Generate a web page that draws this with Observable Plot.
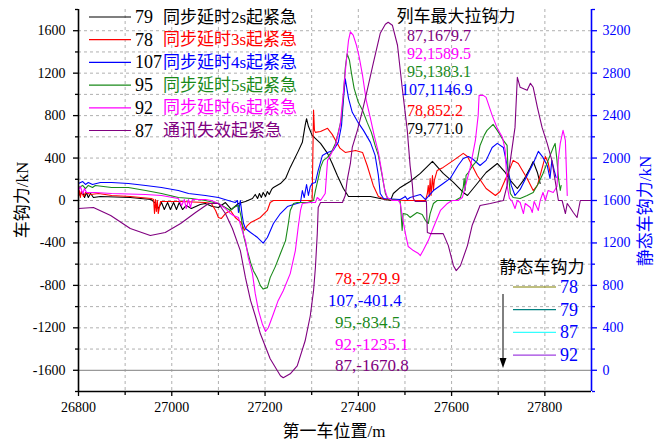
<!DOCTYPE html>
<html><head><meta charset="utf-8">
<script src="https://cdn.jsdelivr.net/npm/d3@7"></script>
<script src="https://cdn.jsdelivr.net/npm/@observablehq/plot@0.6"></script>
<style>
html,body{margin:0;padding:0;background:#fff;}
#chart{width:656px;height:443px;}
</style></head><body><div id="chart"></div>
<script>
// ---- data (position m, coupler force kN) ----
const s79 = [[26800,47],[26809,76],[26813,28],[26817,76],[26821,28],[26826,66],[26832,28],[26847,38],[26911,28],[26956,9],[26965,-28],[26971,-76],[26978,-19],[26984,-85],[26991,-19],[26997,-85],[27004,-19],[27010,-85],[27016,-19],[27023,-85],[27031,-47],[27042,-76],[27061,-38],[27072,-28],[27087,-57],[27100,-66],[27115,-19],[27128,-85],[27143,-28],[27158,-9],[27173,19],[27179,57],[27184,19],[27188,66],[27192,28],[27196,76],[27201,38],[27205,85],[27209,57],[27214,104],[27218,123],[27233,160],[27244,208],[27254,312],[27271,463],[27280,548],[27286,708],[27289,771],[27293,699],[27301,614],[27319,538],[27334,444],[27344,349],[27355,236],[27368,113],[27379,38],[27426,38],[27447,19],[27469,0],[27475,66],[27490,123],[27511,179],[27533,255],[27559,368],[27582,255],[27604,170],[27625,76],[27634,47],[27655,160],[27674,264],[27698,349],[27715,264],[27726,189],[27741,113],[27754,189],[27769,312],[27775,368],[27784,264],[27790,160]];
const s78 = [[26800,47],[26802,94],[26804,28],[26806,85],[26811,38],[26815,76],[26826,57],[26843,66],[26871,47],[26911,38],[26956,19],[26961,9],[26963,-123],[26965,9],[26967,-104],[26969,0],[26971,-123],[26976,-9],[27019,-9],[27072,-19],[27085,-28],[27094,-94],[27100,-160],[27106,-170],[27115,-123],[27126,-94],[27136,-160],[27149,-208],[27156,-280],[27162,-236],[27169,-208],[27190,-160],[27205,-94],[27211,-19],[27218,0],[27301,0],[27304,852],[27306,661],[27308,642],[27319,651],[27334,680],[27344,623],[27361,491],[27372,453],[27394,472],[27409,453],[27419,330],[27432,142],[27443,38],[27458,9],[27501,0],[27544,0],[27548,66],[27550,142],[27552,38],[27554,208],[27556,47],[27559,236],[27561,94],[27563,189],[27569,283],[27582,312],[27604,378],[27625,444],[27634,415],[27644,330],[27655,236],[27674,113],[27694,47],[27704,85],[27719,236],[27732,378],[27743,349],[27762,208],[27775,94],[27784,142],[27794,302],[27801,415],[27807,359],[27811,264]];
const s107 = [[26800,160],[26809,179],[26815,151],[26821,170],[26830,151],[26847,170],[26871,170],[26907,160],[26944,142],[26978,123],[27014,94],[27036,66],[27072,47],[27100,28],[27121,0],[27136,-19],[27141,0],[27143,-113],[27147,0],[27151,-142],[27154,-217],[27158,-264],[27169,-302],[27184,-349],[27196,-401],[27205,-349],[27218,-217],[27233,-123],[27248,-57],[27261,-38],[27276,-19],[27280,94],[27284,28],[27289,151],[27293,47],[27297,132],[27301,160],[27308,170],[27314,283],[27323,425],[27334,453],[27346,472],[27357,548],[27364,708],[27368,944],[27372,1147],[27379,963],[27387,831],[27398,746],[27411,661],[27426,548],[27436,425],[27443,236],[27447,66],[27454,19],[27490,9],[27501,38],[27505,9],[27511,28],[27533,57],[27544,9],[27561,94],[27582,160],[27597,208],[27614,330],[27625,396],[27636,415],[27644,396],[27661,330],[27674,378],[27687,500],[27698,538],[27711,500],[27719,330],[27728,142],[27736,47],[27747,104],[27762,236],[27775,349],[27786,463],[27796,406],[27805,330],[27811,208],[27815,378],[27820,283],[27824,217]];
const s95 = [[26800,123],[26809,142],[26815,113],[26821,142],[26830,123],[26836,142],[26871,123],[26907,123],[26944,94],[26978,66],[27014,28],[27042,19],[27072,0],[27100,-28],[27115,-66],[27126,-94],[27132,-66],[27143,-47],[27149,-160],[27154,-330],[27162,-472],[27169,-585],[27175,-661],[27184,-736],[27190,-802],[27196,-835],[27205,-821],[27211,-727],[27222,-623],[27233,-500],[27244,-378],[27250,-217],[27254,-94],[27261,-28],[27269,-19],[27291,-19],[27304,0],[27308,94],[27314,208],[27319,312],[27325,378],[27334,406],[27342,453],[27351,538],[27357,642],[27364,774],[27368,991],[27372,1246],[27376,1383],[27381,1322],[27385,1208],[27391,1057],[27400,925],[27409,850],[27419,736],[27428,642],[27436,519],[27443,425],[27451,236],[27458,66],[27464,9],[27486,0],[27490,-9],[27494,-283],[27496,-123],[27505,-132],[27511,-160],[27526,-113],[27537,-132],[27544,-189],[27550,-217],[27554,-123],[27561,-28],[27569,0],[27608,0],[27619,28],[27625,123],[27627,208],[27629,94],[27631,236],[27636,264],[27644,321],[27655,378],[27661,519],[27670,614],[27676,661],[27689,717],[27698,661],[27711,566],[27719,519],[27721,283],[27726,66],[27732,28],[27747,19],[27762,47],[27775,76],[27786,160],[27796,255],[27807,378],[27818,500],[27822,538],[27826,378],[27829,217],[27833,94],[27835,142]];
const s92 = [[26800,94],[26804,132],[26809,66],[26813,113],[26817,76],[26836,76],[26871,66],[26944,57],[26978,47],[27014,19],[27021,-47],[27027,9],[27031,-76],[27036,9],[27040,-66],[27044,9],[27072,9],[27085,0],[27100,-28],[27115,-76],[27126,-123],[27132,-142],[27143,-160],[27149,-255],[27158,-378],[27164,-538],[27173,-689],[27179,-878],[27186,-1038],[27194,-1161],[27201,-1235],[27207,-1199],[27218,-1067],[27228,-944],[27239,-850],[27254,-689],[27265,-472],[27271,-255],[27276,-94],[27280,-28],[27297,-19],[27308,-19],[27312,28],[27319,0],[27329,66],[27334,378],[27340,425],[27351,519],[27361,708],[27368,1020],[27374,1303],[27379,1510],[27383,1590],[27389,1558],[27396,1463],[27402,1350],[27409,1180],[27417,944],[27426,774],[27434,614],[27443,453],[27449,302],[27456,113],[27462,28],[27473,0],[27486,0],[27490,-28],[27494,-142],[27501,-312],[27507,-434],[27518,-472],[27529,-500],[27533,-519],[27539,-472],[27550,-378],[27561,-255],[27576,-94],[27591,-28],[27601,0],[27614,0],[27623,28],[27629,123],[27640,312],[27651,566],[27657,802],[27659,991],[27668,991],[27674,972],[27687,802],[27698,680],[27709,595],[27715,472],[27719,142],[27724,19],[27730,-9],[27736,-76],[27741,0],[27747,-19],[27754,-123],[27758,-28],[27769,-66],[27773,-113],[27777,-9],[27786,-94],[27790,0],[27796,76],[27801,0],[27807,94],[27818,76],[27826,132],[27829,396],[27833,538],[27839,661],[27844,566],[27848,47]];
const s87 = [[26800,-76],[26832,-66],[26869,-142],[26911,-264],[26954,-330],[26986,-302],[27019,-217],[27051,-113],[27079,-28],[27100,-28],[27115,-123],[27130,-264],[27147,-472],[27158,-727],[27169,-944],[27179,-1086],[27190,-1256],[27211,-1492],[27233,-1652],[27239,-1671],[27254,-1633],[27269,-1558],[27286,-1322],[27297,-1086],[27304,-850],[27308,-632],[27312,-312],[27314,-66],[27319,-19],[27366,-19],[27372,47],[27376,189],[27383,349],[27387,500],[27398,661],[27409,850],[27419,1038],[27432,1293],[27447,1576],[27458,1661],[27464,1680],[27473,1652],[27484,1463],[27494,1067],[27505,661],[27511,330],[27516,142],[27518,19],[27522,-9],[27546,-9],[27548,-302],[27554,-312],[27582,-312],[27593,-425],[27604,-614],[27610,-661],[27619,-614],[27634,-425],[27644,-236],[27661,-47],[27683,-28],[27711,0],[27719,142],[27726,378],[27736,689],[27741,1161],[27747,1067],[27762,1038],[27769,1104],[27775,1067],[27784,878],[27794,689],[27805,538],[27815,378],[27822,189],[27829,0],[27837,0],[27844,-123],[27848,-28],[27854,-66],[27861,-113],[27869,-160],[27876,0],[27900,0]];

const seriesData = [s79, s78, s107, s95, s92, s87];
const seriesNames = ["79", "78", "107", "95", "92", "87"];
const seriesLabels = ["同步延时2s起紧急", "同步延时3s起紧急", "同步延时4s起紧急", "同步延时5s起紧急", "同步延时6s起紧急", "通讯失效起紧急"];
const seriesColors = ["#000000", "#ff0000", "#0000ff", "#1a8a1a", "#ff00ff", "#800080"];

const xTicks = [26800, 27000, 27200, 27400, 27600, 27800];
const xMinor = [26900, 27100, 27300, 27500, 27700];
const xGrid = [26900, 27000, 27100, 27200, 27300, 27400, 27500, 27600, 27700, 27800];
const yTicksLeft = [-1600, -1200, -800, -400, 0, 400, 800, 1200, 1600];
const yMinorLeft = [-1800, -1400, -1000, -600, -200, 200, 600, 1000, 1400, 1800];
const yGrid = [-1400, -1200, -1000, -800, -600, -400, -200, 0, 200, 400, 600, 800, 1000, 1200, 1400, 1600];
const yTicksRight = [0, 400, 800, 1200, 1600, 2000, 2400, 2800, 3200];
const rightOffset = 1600;

const maxPullTitle = "列车最大拉钩力";
const maxPull = [["87", "1679.7"], ["92", "1589.5"], ["95", "1383.1"], ["107", "1146.9"], ["78", "852.2"], ["79", "771.0"]];
const maxPullColors = ["#800080", "#ff00ff", "#1a8a1a", "#0000ff", "#ff0000", "#000000"];
const maxPush = [["78", "-279.9"], ["107", "-401.4"], ["95", "-834.5"], ["92", "-1235.1"], ["87", "-1670.8"]];
const maxPushColors = ["#ff0000", "#0000ff", "#1a8a1a", "#ff00ff", "#800080"];

const staticTitle = "静态车钩力";
const staticNames = ["78", "79", "87", "92"];
const staticColors = ["#808000", "#008080", "#33ffff", "#a040e0"];

const serif = "'Liberation Serif','Times New Roman','Noto Sans CJK SC',serif";
const cjk = "'Liberation Serif','Noto Sans CJK SC',serif";

const marks = [
  Plot.gridX(xGrid, {stroke: "#b0b0b0", strokeOpacity: 1, strokeDasharray: "3,3"}),
  Plot.gridY(yGrid, {stroke: "#b0b0b0", strokeOpacity: 1, strokeDasharray: "3,3"}),
  Plot.ruleY([-rightOffset], {stroke: "#999", strokeWidth: 1.2})
];
seriesData.forEach((d, i) => {
  marks.push(Plot.line(d, {x: d => d[0], y: d => d[1], stroke: seriesColors[i], strokeWidth: 1.1}));
});
marks.push(
  Plot.axisX(xTicks, {tickSize: 5, tickPadding: 6, tickFormat: d => String(d), fontSize: 14, strokeWidth: 1.3, label: null}),
  Plot.axisX(xMinor, {tickSize: 4, tickFormat: () => "", strokeWidth: 1.3, label: null}),
  Plot.axisY(yTicksLeft, {anchor: "left", tickSize: 5, tickPadding: 8, tickFormat: d => String(d), fontSize: 14, strokeWidth: 1.3, label: null}),
  Plot.axisY(yMinorLeft, {anchor: "left", tickSize: 3, tickFormat: () => "", strokeWidth: 1.3, label: null}),
  Plot.axisY(yTicksRight.map(v => v - rightOffset), {anchor: "right", tickSize: 5, tickPadding: 6, tickFormat: d => String(d + rightOffset), fontSize: 14, color: "#0000ff", strokeWidth: 1.3, label: null}),
  Plot.axisY(yMinorLeft.map(v => v), {anchor: "right", tickSize: 3, tickFormat: () => "", color: "#0000ff", strokeWidth: 1.3, label: null}),
  Plot.ruleX([26800], {stroke: "#000", strokeWidth: 1.6}),
  Plot.ruleY([-1800], {stroke: "#000", strokeWidth: 1.6}),
  Plot.ruleX([27900], {stroke: "#0000ff", strokeWidth: 1.6})
);

const chart = Plot.plot({
  width: 656, height: 443,
  marginLeft: 78, marginRight: 65, marginTop: 9, marginBottom: 52,
  x: {domain: [26800, 27900]},
  y: {domain: [-1800, 1800]},
  style: {fontFamily: serif, fontSize: "14px", background: "#fff", color: "#000", overflow: "visible"},
  marks
});
document.getElementById("chart").appendChild(chart);

const svg = d3.select(chart);
function txt(x, y, s, opt = {}) {
  const t = svg.append("text").attr("x", x).attr("y", y).text(s)
    .attr("font-family", cjk).attr("font-size", opt.size || 17)
    .attr("fill", opt.fill || "#000").attr("text-anchor", opt.anchor || "start")
    .attr("dominant-baseline", "central");
  if (opt.rotate) t.attr("transform", `rotate(-90 ${x} ${y})`);
  return t;
}
// legend
seriesNames.forEach((n, i) => {
  const y = 17 + i * 22.7;
  svg.append("line").attr("x1", 89).attr("x2", 131).attr("y1", y).attr("y2", y)
    .attr("stroke", seriesColors[i]).attr("stroke-width", 1.2);
  txt(135, y, n, {size: 18});
  txt(163, y, seriesLabels[i], {fill: seriesColors[i], size: 17});
});
// max pull annotations
txt(456, 16, maxPullTitle, {anchor: "middle", size: 17});
const pullY = [35, 53, 71, 89, 110, 128];
maxPull.forEach((d, i) => {
  txt(d[0] === "107" ? 401 : 407, pullY[i], d[0] + "," + d[1], {fill: maxPullColors[i], size: 16});
});
// max push annotations
const pushY = [278, 300, 322, 344, 365];
maxPush.forEach((d, i) => {
  txt(d[0] === "107" ? 328 : 335, pushY[i], d[0] + "," + d[1], {fill: maxPushColors[i], size: 17});
});
// static legend
txt(542, 267, staticTitle, {anchor: "middle", size: 17});
staticNames.forEach((n, i) => {
  const y = 287 + i * 22.7;
  svg.append("line").attr("x1", 513).attr("x2", 556).attr("y1", y).attr("y2", y)
    .attr("stroke", staticColors[i]).attr("stroke-width", 1.2);
  txt(560, y, n, {fill: "#0000ff", size: 18});
});
// arrow
svg.append("line").attr("x1", 503).attr("x2", 503).attr("y1", 294).attr("y2", 360).attr("stroke", "#000").attr("stroke-width", 1);
svg.append("path").attr("d", "M499.5,358 L506.5,358 L503,368 Z").attr("fill", "#000");
// axis titles
txt(334, 431, "第一车位置/m", {anchor: "middle", size: 17});
txt(22, 200, "车钩力/kN", {anchor: "middle", size: 17, rotate: true});
txt(645, 211, "静态车钩力/kN", {anchor: "middle", size: 17, fill: "#0000ff", rotate: true});
</script></body></html>
